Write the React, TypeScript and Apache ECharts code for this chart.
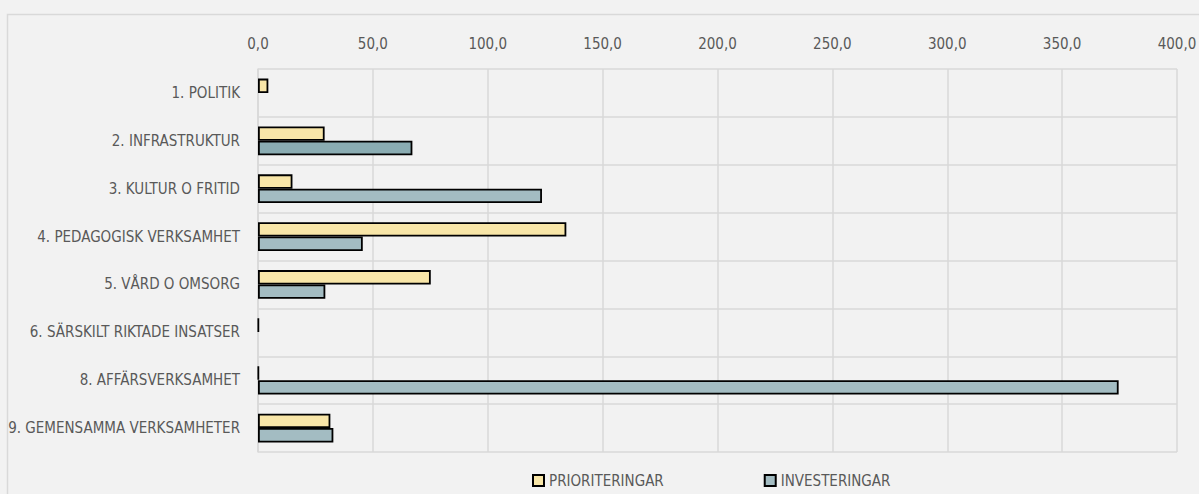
import React, { useEffect, useRef } from "react";
import * as echarts from "echarts";

const categories = [
  "1. POLITIK",
  "2. INFRASTRUKTUR",
  "3. KULTUR O FRITID",
  "4. PEDAGOGISK VERKSAMHET",
  "5. VÅRD O OMSORG",
  "6. SÄRSKILT RIKTADE INSATSER",
  "8. AFFÄRSVERKSAMHET",
  "9. GEMENSAMMA VERKSAMHETER",
];
const prioriteringar = [4.5, 29, 15, 134.2, 75.2, 0.3, 0.3, 31.5];
const investeringar: (number | null)[] = [null, 67.2, 123.6, 45.6, 29.3, null, 374.6, 32.8];
const highlightIndex = 1;
const seriesNames = ["PRIORITERINGAR", "INVESTERINGAR"];

const FONT = "'Liberation Sans Narrow', 'DejaVu Sans Condensed', sans-serif";
const TEXT = "#595959";
const GRID = "#d9d9d9";
const YELLOW = "#f8e6a8";
const TEAL = "#a3bcc2";
const TEAL_DARK = "#8aacb2";

export default function App() {
  const ref = useRef<HTMLDivElement>(null);
  useEffect(() => {
    if (!ref.current) return;
    const chart = echarts.init(ref.current, undefined, { renderer: "svg" });
    chart.setOption({
      animation: false,
      backgroundColor: "#f2f2f2",
      textStyle: { fontFamily: FONT },
      graphic: [
        {
          type: "rect",
          shape: { x: 7.5, y: 14.5, width: 1300, height: 600 },
          style: { fill: "none", stroke: GRID, lineWidth: 1.5 },
          silent: true,
        },
      ],
      grid: { left: 258, right: 22, top: 69, bottom: 42, outerBoundsMode: "none", containLabel: false },
      legend: {
        left: 527,
        top: 468,
        itemWidth: 11,
        itemHeight: 11,
        itemGap: 100,
        icon: "rect",
        textStyle: { color: TEXT, fontSize: 15, fontFamily: FONT },
        data: seriesNames,
      },
      xAxis: {
        type: "value",
        position: "top",
        min: 0,
        max: 400,
        interval: 50,
        axisLine: { show: false },
        axisTick: { show: false },
        axisLabel: {
          color: TEXT,
          fontSize: 15,
          margin: 18,
          formatter: (v: number) => v.toFixed(1).replace(".", ","),
        },
        splitLine: { lineStyle: { color: GRID, width: 1.5 } },
      },
      yAxis: {
        type: "category",
        inverse: true,
        data: categories,
        axisLine: { show: true, lineStyle: { color: GRID, width: 1.5 } },
        axisTick: { show: false },
        splitLine: { show: true, lineStyle: { color: GRID, width: 1.5 } },
        axisLabel: { color: TEXT, fontSize: 15, margin: 18 },
      },
      series: [
        {
          name: seriesNames[0],
          type: "bar",
          data: prioriteringar,
          barGap: "0%",
          barCategoryGap: "40%",
          itemStyle: { color: YELLOW, borderColor: "#000", borderWidth: 1.8 },
        },
        {
          name: seriesNames[1],
          type: "bar",
          data: investeringar.map((v, i) =>
            i === highlightIndex ? { value: v, itemStyle: { color: TEAL_DARK } } : v
          ),
          barGap: "0%",
          barCategoryGap: "40%",
          itemStyle: { color: TEAL, borderColor: "#000", borderWidth: 1.8 },
        },
      ],
    });
    return () => chart.dispose();
  }, []);
  return (
    <div
      ref={ref}
      style={{ position: "fixed", left: 0, top: 0, width: 1199, height: 494, background: "#f2f2f2" }}
    />
  );
}
